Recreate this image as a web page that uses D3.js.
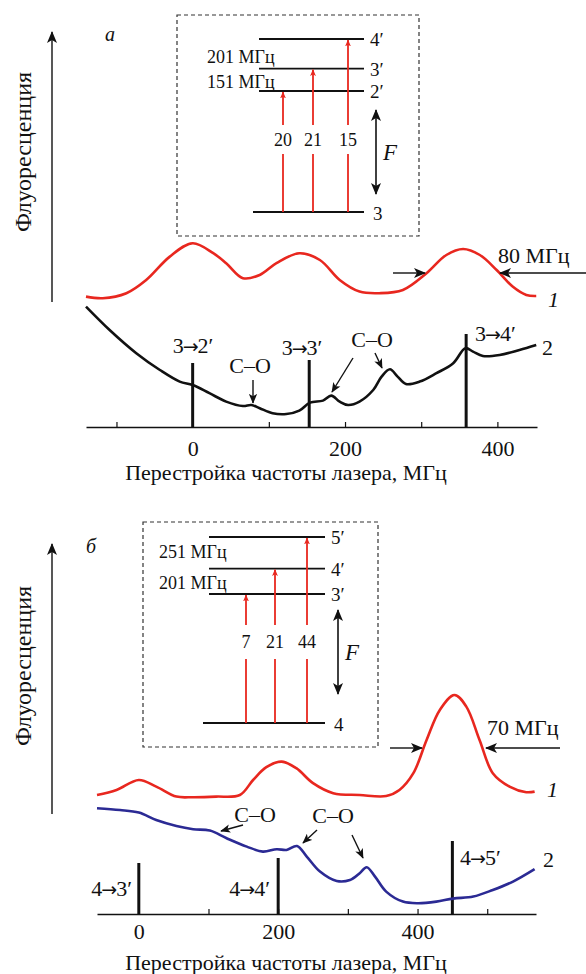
<!DOCTYPE html>
<html>
<head>
<meta charset="utf-8">
<script src="https://cdn.jsdelivr.net/npm/d3@7"></script>
<style>
  body { margin: 0; background: #fff; }
  svg text { font-family: "Liberation Serif", "DejaVu Serif", serif; fill: #111; }
</style>
</head>
<body>
<div id="chart"></div>
<script>
// ---- data: panel a (3 -> 2',3',4') ----
var topFreq1 = [-140, -118, -87, -61, -30, 0, 27, 44, 66, 88, 110, 140, 167, 193, 219, 245, 276, 307, 333, 355, 377, 399, 420, 438, 451];
var topCurve1 = [65.2, 64.4, 66.9, 73.5, 85.2, 91.9, 86.9, 81.9, 74.4, 76, 81.9, 86.9, 83.5, 73.5, 67.7, 66.9, 68.5, 76.9, 86, 89, 86, 78.5, 70.2, 66, 65.5];
var topFreq2 = [-140, -109, -74, -43, -17, 0, 22, 44, 66, 77, 88, 105, 123, 140, 154, 171, 182, 193, 204, 219, 237, 248, 259, 269, 280, 298, 320, 342, 358, 368, 381, 403, 429, 451];
var topCurve2 = [60.2, 48.5, 36.9, 28.5, 22.7, 21, 16.9, 12.7, 10.5, 11, 9.4, 6.9, 6.5, 8.2, 12.2, 13.2, 15.7, 12.7, 11, 12.7, 18.5, 25.2, 28.9, 25.2, 21.5, 22.7, 26.9, 31.9, 39.4, 37.7, 35.5, 36, 38.5, 41];
var topTransFreq = [0, 153, 359];
var topTransHeight = [32, 33.5, 46.5];
var topTransLabels = [["3", "2\u2032"], ["3", "3\u2032"], ["3", "4\u2032"]];
var topTicks = [-100, 0, 100, 200, 300, 400];
var topTickLabels = [0, 200, 400];
var topLevels = ["2\u2032", "3\u2032", "4\u2032"];
var topLevelEnergy = [0, 151, 352];
var topGround = "3";
var topStrengths = [20, 21, 15];
var topSplittings = ["151 \u041c\u0413\u0446", "201 \u041c\u0413\u0446"];

// ---- data: panel б (4 -> 3',4',5') ----
var botFreq1 = [-60, -32, 0, 25, 54, 78, 111, 145, 164, 183, 205, 226, 250, 279, 317, 355, 374, 394, 413, 432, 453, 470, 489, 508, 532, 556, 568];
var botCurve1 = [59.5, 62, 67, 63.7, 58.7, 58.4, 58.7, 59.5, 67, 73.4, 76.2, 72.9, 65.4, 60.4, 59.5, 59, 62, 70.4, 87, 102, 109.5, 103.7, 87, 70.4, 63.7, 60.9, 61.2];
var botFreq2 = [-60, -27, 0, 25, 54, 78, 102, 126, 155, 178, 198, 212, 227, 241, 260, 284, 303, 317, 327, 339, 355, 379, 401, 427, 451, 480, 508, 537, 568];
var botCurve2 = [52.9, 52, 50.7, 47, 44, 42.4, 41.7, 37.9, 33.7, 31.2, 32.4, 32, 34, 28.7, 21.2, 16.5, 17, 20.4, 23.4, 18.7, 11.2, 6.2, 5.4, 6.2, 7.7, 8.7, 12, 16.2, 22.4];
var botTransFreq = [0, 200, 450];
var botTransHeight = [25.5, 28, 36.5];
var botTransLabels = [["4", "3\u2032"], ["4", "4\u2032"], ["4", "5\u2032"]];
var botTicks = [0, 100, 200, 300, 400, 500];
var botTickLabels = [0, 200, 400];
var botLevels = ["3\u2032", "4\u2032", "5\u2032"];
var botLevelEnergy = [0, 201, 452];
var botGround = "4";
var botStrengths = [7, 21, 44];
var botSplittings = ["201 \u041c\u0413\u0446", "251 \u041c\u0413\u0446"];

var W = 586, H = 974;
var RED = "#e8271f", BLUE = "#2b2a94";

var svg = d3.select("#chart").append("svg")
    .attr("width", W).attr("height", H);

var defs = svg.append("defs");
function arrowMarker(id, color, w, h) {
  defs.append("marker")
      .attr("id", id)
      .attr("viewBox", "0 0 12 10")
      .attr("refX", 11).attr("refY", 5)
      .attr("markerWidth", w).attr("markerHeight", h)
      .attr("markerUnits", "userSpaceOnUse")
      .attr("orient", "auto-start-reverse")
    .append("path")
      .attr("d", "M0,0 L12,5 L0,10 L3,5 Z")
      .attr("fill", color);
}
arrowMarker("ah", "#111", 12, 10);
arrowMarker("ahs", "#111", 10, 9);
arrowMarker("ahr", RED, 7, 7);

function arrow(g, x1, y1, x2, y2, marker, w) {
  g.append("line")
      .attr("x1", x1).attr("y1", y1).attr("x2", x2).attr("y2", y2)
      .attr("stroke", "#111").attr("stroke-width", w || 1.3)
      .attr("marker-end", "url(#" + (marker || "ah") + ")");
}

function drawPanel(p) {
  var g = svg.append("g");
  var x = d3.scaleLinear().domain(p.xDomain).range(p.xRange);
  var y = d3.scaleLinear().domain([0, 200]).range([p.axisY, p.axisY - 400]);

  // vertical fluorescence arrow
  g.append("line")
      .attr("x1", 52).attr("x2", 52).attr("y1", p.yAxisBottom).attr("y2", p.yAxisTop + 2)
      .attr("stroke", "#111").attr("stroke-width", 1.4)
      .attr("marker-end", "url(#ah)");
  g.append("text")
      .attr("transform", "translate(31," + p.yLabelMid + ") rotate(-90)")
      .attr("text-anchor", "middle")
      .style("font-size", "24px")
      .text("\u0424\u043b\u0443\u043e\u0440\u0435\u0441\u0446\u0435\u043d\u0446\u0438\u044f");
  g.append("text")
      .attr("x", p.letterX).attr("y", p.yAxisTop + 11)
      .style("font-size", "20px").style("font-style", "italic")
      .text(p.letter);

  // x axis, ticks pointing up
  var ax = g.append("g")
      .attr("transform", "translate(0," + p.axisY + ")")
      .call(d3.axisBottom(x)
          .tickValues(p.ticks)
          .tickSizeInner(-5).tickSizeOuter(0).tickPadding(p.tickPad)
          .tickFormat(function(d) { return p.tickLabels.indexOf(d) >= 0 ? d : ""; }));
  ax.select(".domain").attr("stroke", "#111").attr("stroke-width", 1.5);
  ax.selectAll(".tick line").attr("stroke", "#111").attr("stroke-width", 1.2);
  ax.selectAll(".tick text")
      .attr("font-family", null).style("font-size", "22px").attr("fill", "#111");
  g.append("text")
      .attr("x", 286).attr("y", p.axisY + p.titleOff)
      .attr("text-anchor", "middle")
      .style("font-size", "22px")
      .text("\u041f\u0435\u0440\u0435\u0441\u0442\u0440\u043e\u0439\u043a\u0430 \u0447\u0430\u0441\u0442\u043e\u0442\u044b \u043b\u0430\u0437\u0435\u0440\u0430, \u041c\u0413\u0446");

  // transition markers
  p.transFreq.forEach(function(f, i) {
    g.append("line")
        .attr("x1", x(f)).attr("x2", x(f))
        .attr("y1", y(0)).attr("y2", y(p.transHeight[i]))
        .attr("stroke", "#111").attr("stroke-width", 3);
  });
  p.transLabelPos.forEach(function(lp, i) {
    var t = g.append("text")
        .attr("x", lp[0]).attr("y", lp[1])
        .attr("text-anchor", lp[2])
        .style("font-size", "22px");
    t.append("tspan").text(p.transLabels[i][0]);
    t.append("tspan").style("font-family", "DejaVu Sans").style("font-size", "19px")
        .attr("dx", -1).text("\u2192");
    t.append("tspan").attr("dx", -1).text(p.transLabels[i][1]);
  });

  // spectra
  var line = d3.line()
      .x(function(d) { return x(d[0]); })
      .y(function(d) { return y(d[1]); })
      .curve(d3.curveCatmullRom.alpha(0.5));
  g.append("path")
      .datum(d3.zip(p.freq1, p.curve1))
      .attr("fill", "none").attr("stroke", RED).attr("stroke-width", 2.6)
      .attr("d", line);
  g.append("path")
      .datum(d3.zip(p.freq2, p.curve2))
      .attr("fill", "none").attr("stroke", p.color2).attr("stroke-width", 2.6)
      .attr("d", line);

  // curve numbers
  g.append("text").attr("x", p.label1[0]).attr("y", p.label1[1])
      .style("font-size", "22px").style("font-style", "italic").text("1");
  g.append("text").attr("x", p.label2[0]).attr("y", p.label2[1])
      .style("font-size", "22px").text("2");

  // width marker
  var wy = p.width.y;
  arrow(g, p.width.x1a, wy, p.width.x1b, wy, "ah", 1.4);
  arrow(g, p.width.x2a, wy, p.width.x2b, wy, "ah", 1.4);
  g.append("text").attr("x", p.width.tx).attr("y", p.width.ty)
      .style("font-size", "22px").text(p.width.text);

  // C–O annotations
  p.co.forEach(function(c) {
    g.append("text").attr("x", c.x).attr("y", c.y)
        .attr("text-anchor", "middle").style("font-size", "22px")
        .text("C\u2013O");
    c.arrows.forEach(function(a) { arrow(g, a[0], a[1], a[2], a[3], "ahs", 1.4); });
  });

  // level scheme inset
  var b = p.box;
  g.append("rect")
      .attr("x", b.x).attr("y", b.y).attr("width", b.w).attr("height", b.h)
      .attr("fill", "none").attr("stroke", "#333").attr("stroke-width", 1.2)
      .attr("stroke-dasharray", "4,3");
  var ly = d3.scaleLinear().domain([0, p.levelEnergy[2]]).range([b.levY0, b.levY1]);
  p.levels.forEach(function(name, i) {
    var yy = ly(p.levelEnergy[i]);
    g.append("line").attr("x1", b.levX0).attr("x2", b.levX1).attr("y1", yy).attr("y2", yy)
        .attr("stroke", "#111").attr("stroke-width", 1.8);
    g.append("text").attr("x", b.levX1 + 6).attr("y", yy + 7)
        .style("font-size", "19px").text(name);
  });
  g.append("line").attr("x1", b.levX0 - 6).attr("x2", b.levX1).attr("y1", b.groundY).attr("y2", b.groundY)
      .attr("stroke", "#111").attr("stroke-width", 1.8);
  g.append("text").attr("x", b.levX1 + 9).attr("y", b.groundY + 8)
      .style("font-size", "19px").text(p.ground);
  p.splittings.forEach(function(s, i) {
    var yy = (ly(p.levelEnergy[i]) + ly(p.levelEnergy[i + 1])) / 2;
    g.append("text").attr("x", b.splitX).attr("y", yy + b.splitOff[i])
        .style("font-size", "18px").text(s);
  });
  p.strengths.forEach(function(s, i) {
    var xx = b.arrX[i], top = ly(p.levelEnergy[i]);
    g.append("line").attr("x1", xx).attr("x2", xx).attr("y1", b.groundY).attr("y2", b.gapBottom)
        .attr("stroke", RED).attr("stroke-width", 1.8);
    g.append("line").attr("x1", xx).attr("x2", xx).attr("y1", b.gapTop).attr("y2", top + 1)
        .attr("stroke", RED).attr("stroke-width", 1.8)
        .attr("marker-end", "url(#ahr)");
    g.append("text").attr("x", xx).attr("y", (b.gapTop + b.gapBottom) / 2 + 6)
        .attr("text-anchor", "middle").style("font-size", "18px").text(s);
  });
  g.append("line").attr("x1", b.fX).attr("x2", b.fX).attr("y1", b.fY0 + 3).attr("y2", b.fY1 - 3)
      .attr("stroke", "#111").attr("stroke-width", 1.6)
      .attr("marker-start", "url(#ah)").attr("marker-end", "url(#ah)");
  g.append("text").attr("x", b.fX + 7).attr("y", (b.fY0 + b.fY1) / 2 + 8)
      .style("font-size", "23px").style("font-style", "italic").text("F");
}

drawPanel({
  xDomain: [-140, 452], xRange: [86, 537], axisY: 427, tickPad: 13, titleOff: 53,
  yAxisTop: 30, yAxisBottom: 302, yLabelMid: 152, letter: "a", letterX: 105,
  ticks: topTicks, tickLabels: topTickLabels,
  transFreq: topTransFreq, transHeight: topTransHeight, transLabels: topTransLabels,
  transLabelPos: [[193, 353, "middle"], [302, 355, "middle"], [475, 341, "start"]],
  freq1: topFreq1, curve1: topCurve1, freq2: topFreq2, curve2: topCurve2, color2: "#111",
  label1: [548, 307], label2: [542, 355],
  width: { y: 273, x1a: 393, x1b: 425, x2a: 586, x2b: 500, tx: 498, ty: 263, text: "80 \u041c\u0413\u0446" },
  co: [
    { x: 250, y: 373, arrows: [[253, 380, 253, 403]] },
    { x: 372, y: 347, arrows: [[353, 358, 332, 392], [375, 353, 382, 368]] }
  ],
  levels: topLevels, levelEnergy: topLevelEnergy, ground: topGround,
  strengths: topStrengths, splittings: topSplittings,
  box: { x: 177, y: 15, w: 242, h: 221, levX0: 259, levX1: 364, levY0: 91, levY1: 39,
         groundY: 212, splitX: 207, splitOff: [8, 9], arrX: [283, 313, 348], gapTop: 125, gapBottom: 154,
         fX: 376, fY0: 107, fY1: 197 }
});

drawPanel({
  xDomain: [-60, 570], xRange: [97, 536], axisY: 914, tickPad: 9, titleOff: 56,
  yAxisTop: 542, yAxisBottom: 814, yLabelMid: 666, letter: "\u0431", letterX: 86,
  ticks: botTicks, tickLabels: botTickLabels,
  transFreq: botTransFreq, transHeight: botTransHeight, transLabels: botTransLabels,
  transLabelPos: [[132, 896, "end"], [270, 896, "end"], [460, 865, "start"]],
  freq1: botFreq1, curve1: botCurve1, freq2: botFreq2, curve2: botCurve2, color2: BLUE,
  label1: [547, 797], label2: [543, 867],
  width: { y: 748, x1a: 390, x1b: 422, x2a: 560, x2b: 486, tx: 487, ty: 735, text: "70 \u041c\u0413\u0446" },
  co: [
    { x: 255, y: 822, arrows: [[243, 825, 221, 831]] },
    { x: 333, y: 823, arrows: [[317, 830, 303, 843], [352, 835, 363, 858]] }
  ],
  levels: botLevels, levelEnergy: botLevelEnergy, ground: botGround,
  strengths: botStrengths, splittings: botSplittings,
  box: { x: 143, y: 522, w: 235, h: 225, levX0: 209, levX1: 325, levY0: 594, levY1: 537,
         groundY: 723, splitX: 159, splitOff: [8, 5], arrX: [246, 275, 307], gapTop: 625, gapBottom: 659,
         fX: 338, fY0: 607, fY1: 697 }
});
</script>
</body>
</html>
